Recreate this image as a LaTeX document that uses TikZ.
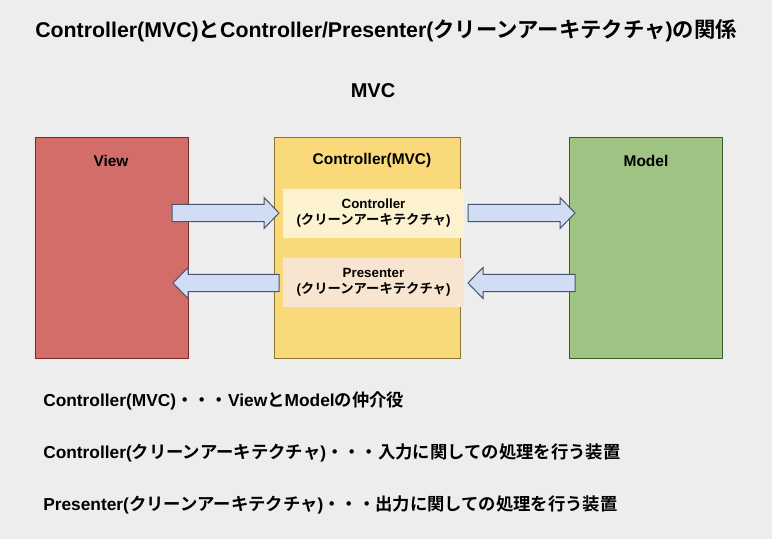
\documentclass[tikz,border=0pt]{standalone}
\usepackage{fontspec}
\setmainfont{Liberation Sans}
\newfontfamily\jp[BoldFont={Noto Sans CJK JP Bold}]{Noto Sans CJK JP}
\usetikzlibrary{calc}

\definecolor{bgGray}{HTML}{EDEDED}
\definecolor{viewFill}{HTML}{D26D6A}
\definecolor{viewLine}{HTML}{7A2A28}
\definecolor{ctrlFill}{HTML}{FAD97A}
\definecolor{ctrlLine}{HTML}{8C7634}
\definecolor{modelFill}{HTML}{9FC383}
\definecolor{modelLine}{HTML}{3E5A2E}
\definecolor{ctrlInFill}{HTML}{FDF2CF}
\definecolor{presFill}{HTML}{F8E5D0}
\definecolor{arrowFill}{HTML}{D0DDF5}
\definecolor{arrowLine}{HTML}{4A5470}

\begin{document}
\begin{tikzpicture}[x=0.75pt,y=-0.75pt,%%
  boxStyle/.style={draw,line width=0.75pt,anchor=north west,inner sep=0pt},%%
  innerStyle/.style={inner sep=0pt,align=center,minimum width=181*0.75pt,%%
    minimum height=49*0.75pt,font=\fontsize{10}{12}\selectfont\bfseries},%%
  boxLabel/.style={font=\fontsize{11.6}{14}\selectfont\bfseries},%%
  noteStyle/.style={anchor=west,inner sep=0pt,font=\fontsize{13}{15}\selectfont\bfseries},%%
  blockArrow/.style={draw=arrowLine,fill=arrowFill,line width=0.75pt,line join=miter,%%
    to path={let \p1=(\tikztostart), \p2=(\tikztotarget),
      \n1={sign(\x2-\x1)} in
      (\x1,{\y1+6.4pt}) -- ({\x2-(\n1)*11.25pt},{\y1+6.4pt})
      -- ({\x2-(\n1)*11.25pt},{\y1+11.6pt}) -- (\x2,\y1)
      -- ({\x2-(\n1)*11.25pt},{\y1-11.6pt}) -- ({\x2-(\n1)*11.25pt},{\y1-6.4pt})
      -- (\x1,{\y1-6.4pt}) -- cycle}}%%
]
%%
%%
\pgfmathsetmacro{\u}{0.75}
\pgfmathsetmacro{\boxTop}{137}
\pgfmathsetmacro{\boxH}{221}
\pgfmathsetmacro{\upperRow}{213}
\pgfmathsetmacro{\lowerRow}{283}
%%
%% Background of the whole sheet.
\fill[bgGray] (0,0) rectangle (772,539);
%%
%% Headings.
\node[font=\fontsize{16}{19}\selectfont\bfseries] (title) at (386,31)
  {Controller(MVC){\jp と}Controller/Presenter({\jp クリーンアーキテクチャ}){\jp の関係}};
\node[font=\fontsize{15}{18}\selectfont\bfseries] (mvc) at (373,91) {MVC};
%%
%% The three MVC boxes.
\node[boxStyle,fill=viewFill,draw=viewLine,minimum width=153*\u pt,minimum height=\boxH*\u pt]
  (view) at (35,\boxTop) {};
\node[boxStyle,fill=ctrlFill,draw=ctrlLine,minimum width=186*\u pt,minimum height=\boxH*\u pt]
  (ctrl) at (274,\boxTop) {};
\node[boxStyle,fill=modelFill,draw=modelLine,minimum width=153*\u pt,minimum height=\boxH*\u pt]
  (model) at (569,\boxTop) {};
\node[boxLabel] (viewLabel) at (111,161) {View};
\node[boxLabel] (ctrlLabel) at (372,161) {Controller(MVC)};
\node[boxLabel] (modelLabel) at (646,161) {Model};
%%
%% Clean architecture parts inside the controller.
\node[innerStyle,fill=ctrlInFill] (ctrlIn) at (373.5,213.5)
  {Controller\\({\jp クリーンアーキテクチャ})};
\node[innerStyle,fill=presFill] (presOut) at (373.5,282.5)
  {Presenter\\({\jp クリーンアーキテクチャ})};
%%
%% Ends of the block arrows.
\coordinate (viewOut) at (172,\upperRow);
\coordinate (ctrlTip) at (279,\upperRow);
\coordinate (ctrlOut) at (468,\upperRow);
\coordinate (modelTip) at (575,\upperRow);
\coordinate (modelOut) at (575,\lowerRow);
\coordinate (presTip) at (468,\lowerRow);
\coordinate (presStart) at (279,\lowerRow);
\coordinate (viewTip) at (173,\lowerRow);
%%
\draw[blockArrow] (viewOut) to (ctrlTip);
\draw[blockArrow] (ctrlOut) to (modelTip);
\draw[blockArrow] (modelOut) to (presTip);
\draw[blockArrow] (presStart) to (viewTip);
%%
%% Notes below the diagram.
\node[noteStyle] (noteMvc) at (43,401)
  {Controller(MVC){\jp ・・・}View{\jp と}Model{\jp の仲介役}};
\node[noteStyle] (noteCtrl) at (43,453)
  {Controller({\jp クリーンアーキテクチャ}){\jp ・・・入力に関しての処理を行う装置}};
\node[noteStyle] (notePres) at (43,505)
  {Presenter({\jp クリーンアーキテクチャ}){\jp ・・・出力に関しての処理を行う装置}};
\end{tikzpicture}
\end{document}
